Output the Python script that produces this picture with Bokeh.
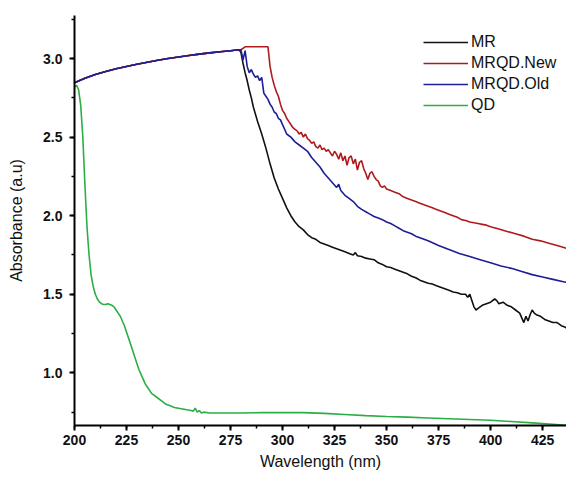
from bokeh.plotting import figure
from bokeh.embed import file_html
from bokeh.resources import INLINE
from bokeh.models import Range1d, SingleIntervalTicker, Legend, LegendItem, PrintfTickFormatter

# ---------------- data ----------------
shared_x = [200, 205, 210, 215, 220, 225, 230, 235, 240, 245, 250, 255, 260, 265, 270, 275, 279]
shared_y = [2.846, 2.875, 2.898, 2.918, 2.935, 2.950, 2.964, 2.977, 2.989, 3.000, 3.010, 3.019,
            3.028, 3.036, 3.043, 3.050, 3.056]

mr_x = shared_x + [280, 281, 282, 283, 284, 285, 286, 288, 290, 292, 294, 296, 298, 300, 302, 304,
                   306, 308, 310, 312, 314, 316, 318, 320, 322, 324, 326, 328, 330, 332, 334, 335,
                   336, 338, 340, 342, 344, 346, 348, 350, 352, 354, 356, 358, 360, 362, 364, 366,
                   368, 370, 372, 374, 376, 378, 380, 382, 384, 386, 388, 389, 390, 391, 392, 393,
                   394, 396, 398, 400, 402, 403, 404, 406, 408, 410, 412, 414, 415, 416, 417, 418,
                   419, 420, 421, 422, 424, 426, 428, 430, 432, 434, 436, 438, 440, 442, 444]
mr_y = shared_y + [3.04, 2.97, 2.91, 2.86, 2.80, 2.75, 2.69, 2.60, 2.52, 2.43, 2.33, 2.24, 2.17, 2.11,
                   2.05, 2.00, 1.96, 1.93, 1.91, 1.88, 1.86, 1.85, 1.83, 1.82, 1.81, 1.80, 1.79,
                   1.78, 1.77, 1.76, 1.75, 1.765, 1.745, 1.74, 1.73, 1.725, 1.72, 1.70, 1.69,
                   1.675, 1.67, 1.66, 1.65, 1.64, 1.63, 1.615, 1.605, 1.59, 1.58, 1.57, 1.565,
                   1.555, 1.545, 1.535, 1.525, 1.515, 1.51, 1.50, 1.50, 1.48, 1.50, 1.46, 1.42,
                   1.40, 1.41, 1.43, 1.44, 1.45, 1.47, 1.46, 1.44, 1.45, 1.43, 1.42, 1.40, 1.38,
                   1.35, 1.32, 1.36, 1.33, 1.37, 1.40, 1.38, 1.37, 1.36, 1.34, 1.33, 1.32, 1.32,
                   1.30, 1.29, 1.27, 1.25, 1.29, 1.30]

new_x = shared_x + [280, 281, 282, 285, 288, 291, 293, 294, 295, 296, 297, 298, 299, 300, 301, 302,
                    303, 304, 305, 306, 307, 308, 309, 310, 311, 312, 313, 314, 315, 316, 317, 318,
                    319, 320, 321, 322, 323, 324, 325, 326, 327, 328, 329, 330, 331, 332, 333, 334,
                    335, 336, 337, 338, 339, 340, 341, 342, 343, 344, 345, 346, 347, 348, 349, 350,
                    352, 354, 356, 358, 360, 362, 364, 366, 368, 370, 372, 374, 376, 378, 380, 382,
                    384, 386, 388, 390, 392, 394, 396, 398, 400, 404, 408, 412, 416, 420, 424, 428,
                    432, 436, 440, 444]
new_y = shared_y + [3.056, 3.065, 3.075, 3.075, 3.075, 3.075, 3.075, 2.95, 2.88, 2.83, 2.79, 2.76,
                    2.71, 2.67, 2.65, 2.62, 2.60, 2.58, 2.56, 2.55, 2.54, 2.52, 2.53, 2.50, 2.52,
                    2.49, 2.48, 2.46, 2.47, 2.44, 2.43, 2.45, 2.42, 2.43, 2.41, 2.42, 2.40, 2.38,
                    2.41, 2.39, 2.36, 2.40, 2.35, 2.38, 2.32, 2.37, 2.38, 2.33, 2.36, 2.29, 2.34,
                    2.35, 2.30, 2.27, 2.23, 2.27, 2.28, 2.25, 2.23, 2.22, 2.19, 2.18, 2.19, 2.17,
                    2.16, 2.15, 2.14, 2.12, 2.11, 2.10, 2.09, 2.08, 2.07, 2.06, 2.05, 2.04, 2.03,
                    2.02, 2.01, 2.00, 1.99, 1.975, 1.97, 1.96, 1.955, 1.95, 1.945, 1.94, 1.93,
                    1.915, 1.90, 1.885, 1.87, 1.85, 1.84, 1.825, 1.81, 1.795, 1.78, 1.77]

old_x = shared_x + [280, 281, 282, 283, 284, 285, 286, 287, 288, 289, 290, 291, 292, 293, 294, 295,
                    296, 297, 298, 299, 300, 302, 304, 306, 308, 310, 312, 314, 316, 318, 320, 322,
                    324, 326, 327, 328, 330, 332, 334, 336, 338, 340, 342, 344, 346, 348, 350, 352,
                    354, 356, 358, 360, 362, 364, 366, 370, 375, 380, 385, 390, 395, 400, 405, 410,
                    415, 420, 425, 430, 435, 440, 444]
old_y = shared_y + [3.056, 2.99, 3.05, 2.95, 2.91, 2.93, 2.90, 2.88, 2.89, 2.86, 2.88, 2.78, 2.76,
                    2.74, 2.71, 2.69, 2.66, 2.65, 2.62, 2.61, 2.58, 2.52, 2.50, 2.47, 2.45, 2.43,
                    2.41, 2.37, 2.34, 2.31, 2.27, 2.24, 2.21, 2.18, 2.20, 2.16, 2.13, 2.11, 2.09,
                    2.06, 2.04, 2.025, 2.01, 1.995, 1.985, 1.975, 1.96, 1.95, 1.935, 1.92, 1.905,
                    1.895, 1.885, 1.87, 1.86, 1.84, 1.81, 1.785, 1.76, 1.74, 1.72, 1.70, 1.68,
                    1.665, 1.645, 1.625, 1.61, 1.595, 1.58, 1.565, 1.555]

qd_x = [200, 201, 202, 203, 204, 205, 206, 207, 208, 209, 210, 211, 212, 213, 214, 215, 216, 217,
        218, 219, 220, 221, 222, 223, 224, 225, 226, 227, 228, 229, 230, 231, 232, 233, 234, 235,
        236, 237, 238, 240, 242, 244, 246, 248, 250, 252, 254, 256, 257, 258, 259, 260, 261, 262,
        265, 270, 280, 290, 300, 310, 320, 330, 340, 350, 360, 370, 380, 390, 400, 410, 420, 430,
        440, 444]
qd_y = [2.82, 2.83, 2.80, 2.70, 2.50, 2.20, 1.93, 1.75, 1.62, 1.55, 1.50, 1.47, 1.45, 1.44, 1.435,
        1.435, 1.44, 1.435, 1.43, 1.42, 1.40, 1.38, 1.36, 1.33, 1.30, 1.26, 1.22, 1.18, 1.14, 1.10,
        1.06, 1.02, 0.99, 0.96, 0.93, 0.91, 0.89, 0.87, 0.86, 0.84, 0.82, 0.80, 0.79, 0.78, 0.775,
        0.77, 0.765, 0.76, 0.755, 0.775, 0.75, 0.76, 0.745, 0.75, 0.745, 0.745, 0.745, 0.747,
        0.748, 0.747, 0.742, 0.735, 0.728, 0.722, 0.718, 0.713, 0.708, 0.703, 0.698, 0.69, 0.682,
        0.673, 0.663, 0.66]

series_names = ["MR", "MRQD.New", "MRQD.Old", "QD"]
series_colors = ["#111111", "#B01A1E", "#1E1E96", "#2AAE46"]

# ---------------- figure ----------------
FONT = "Liberation Sans"
p = figure(width=566, height=474, output_backend="svg", toolbar_location=None,
           x_range=Range1d(200, 436.5), y_range=Range1d(0.665, 3.274),
           min_border_left=74, min_border_right=0, min_border_top=15, min_border_bottom=49)
p.outline_line_color = None
p.xgrid.visible = False
p.ygrid.visible = False
p.background_fill_color = "white"
p.border_fill_color = "white"

data = [(mr_x, mr_y), (new_x, new_y), (old_x, old_y), (qd_x, qd_y)]
renderers = []
for (xs, ys), c in zip(data, series_colors):
    r = p.line(xs, ys, line_color=c, line_width=1.6)
    renderers.append(r)

p.xaxis.ticker = SingleIntervalTicker(interval=25, num_minor_ticks=2)
p.yaxis.ticker = SingleIntervalTicker(interval=0.5, num_minor_ticks=2)
p.yaxis.formatter = PrintfTickFormatter(format="%.1f")
for ax in (p.xaxis[0], p.yaxis[0]):
    ax.axis_line_width = 2
    ax.axis_line_color = "black"
    ax.major_tick_line_width = 2
    ax.minor_tick_line_width = 1.5
    ax.major_tick_out = 5
    ax.major_tick_in = 0
    ax.minor_tick_out = 3
    ax.minor_tick_in = 0
    ax.major_label_text_font = FONT
    ax.major_label_text_font_size = "14px"
    ax.major_label_text_font_style = "bold"
    ax.major_label_text_color = "#111111"
    ax.axis_label_text_font = FONT
    ax.axis_label_text_font_size = "16px"
    ax.axis_label_text_font_style = "normal"
    ax.axis_label_text_color = "#111111"
p.xaxis.axis_label = "Wavelength (nm)"
p.yaxis.axis_label = "Absorbance (a.u)"
p.xaxis.major_label_standoff = 4
p.xaxis.axis_label_standoff = 5
p.yaxis.major_label_standoff = 7
p.yaxis.axis_label_standoff = 15

legend = Legend(items=[LegendItem(label=n, renderers=[r]) for n, r in zip(series_names, renderers)],
                location=(349, 310), border_line_color=None, background_fill_alpha=0,
                padding=0, margin=0, spacing=1, glyph_width=45, glyph_height=20,
                label_height=20, label_standoff=3, label_text_font=FONT,
                label_text_font_size="16px", label_text_color="#111111")
p.add_layout(legend)

open("out.html", "w").write(file_html(p, INLINE))
